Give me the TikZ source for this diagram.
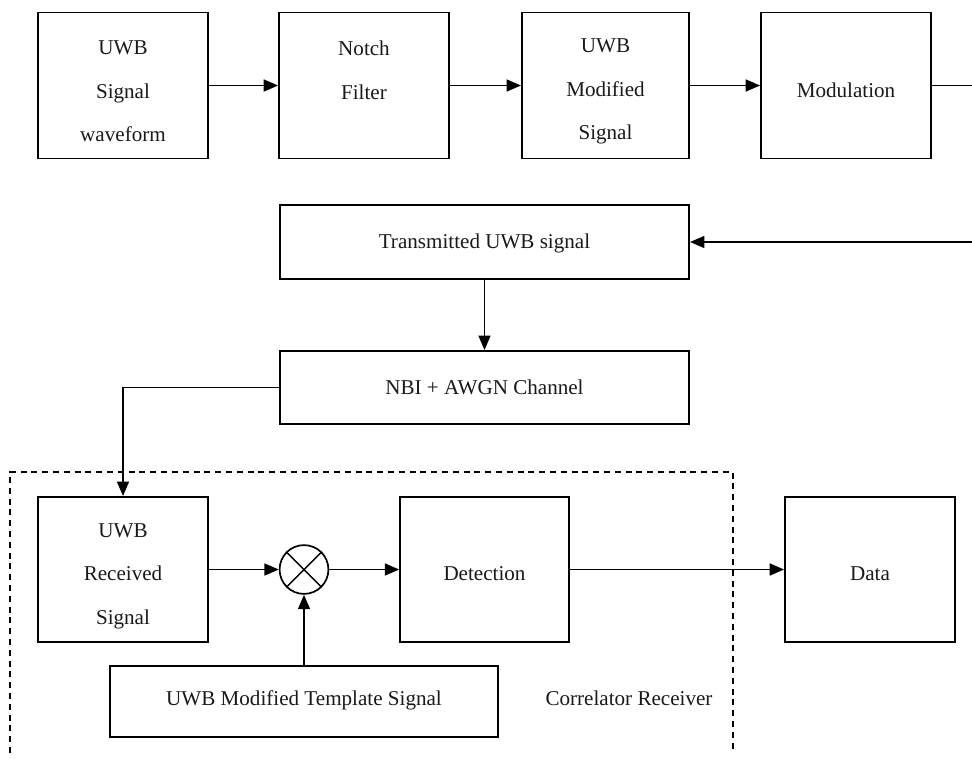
\documentclass[tikz,border=0pt]{standalone}
\usepackage{fontspec}
\setmainfont{Liberation Serif}
\usetikzlibrary{arrows.meta,positioning}
\begin{document}
\begin{tikzpicture}[x=0.025cm,y=-0.025cm,
  every node/.style={font=\fontsize{15}{31}\selectfont, inner sep=0pt},
  box/.style={draw, line width=1.3pt},
  txt/.style={align=center, text=black!90},
  conn/.style={line width=1.2pt, -{Triangle[length=0.36cm,width=0.3cm]}},
  plainline/.style={line width=1.2pt},
  dashbox/.style={line width=1pt, dash pattern=on 0.15cm off 0.12cm}]
\useasboundingbox (0,0) rectangle (972,758);
% top row
\node[box, minimum width=4.25cm, minimum height=3.65cm] (sig) at (123,85.5) {};
\node[txt] (sigT) at (123,91.5) {UWB\\Signal\\waveform};
\node[box, minimum width=4.25cm, minimum height=3.65cm] (notch) at (364,85.5) {};
\node[txt, anchor=north] (notchT) at (364,41) {Notch\\Filter};
\node[box, minimum width=4.18cm, minimum height=3.65cm] (modsig) at (605.5,85.5) {};
\node[txt] (modsigT) at (605.5,91.5) {UWB\\Modified\\Signal};
\node[box, minimum width=4.25cm, minimum height=3.65cm] (modu) at (846,85.5) {};
\node[txt] (moduT) at (846,90) {Modulation};
\coordinate (edgeA) at (972,85.5);
\coordinate (edgeB) at (972,242);
% middle
\node[box, minimum width=10.23cm, minimum height=1.83cm] (trans) at (484.5,242) {};
\node[txt] (transT) at (484.5,243) {Transmitted UWB signal};
\node[box, minimum width=10.23cm, minimum height=1.83cm] (nbi) at (484.5,387.5) {};
\node[txt] (nbiT) at (484.5,387) {NBI + AWGN Channel};
% receiver
\node[box, minimum width=4.25cm, minimum height=3.63cm] (rec) at (123,569.5) {};
\node[txt] (recT) at (123,576) {UWB\\Received\\Signal};
\node[draw, circle, line width=1.2pt, minimum size=1.22cm] (mult) at (304,569.5) {};
\draw[line width=1pt] (mult.north west) -- (mult.south east) (mult.north east) -- (mult.south west);
\node[box, minimum width=4.22cm, minimum height=3.63cm] (det) at (484.5,569.5) {};
\node[txt] (detT) at (484.5,574) {Detection};
\node[box, minimum width=4.25cm, minimum height=3.63cm] (data) at (870,569.5) {};
\node[txt] (dataT) at (870,574) {Data};
\node[box, minimum width=9.68cm, minimum height=1.78cm] (tmpl) at (304,701.5) {};
\node[txt] (tmplT) at (304,700) {UWB Modified Template Signal};
\node[txt] (corr) at (629,698) {Correlator Receiver};
\draw[dashbox] (10,753) -- (10,472) -- (733,472) -- (733,753);
% connectors
\draw[conn] (sig) -- (notch);
\draw[conn] (notch) -- (modsig);
\draw[conn] (modsig) -- (modu);
\draw[plainline] (modu) -- (edgeA);
\draw[conn] (edgeB) -- (trans);
\draw[conn] (trans) -- (nbi);
\draw[conn] (nbi.west) -| (rec.north);
\draw[conn] (rec) -- (mult);
\draw[conn] (mult) -- (det);
\draw[conn] (det) -- (data);
\draw[conn] (tmpl) -- (mult);
\end{tikzpicture}
\end{document}
